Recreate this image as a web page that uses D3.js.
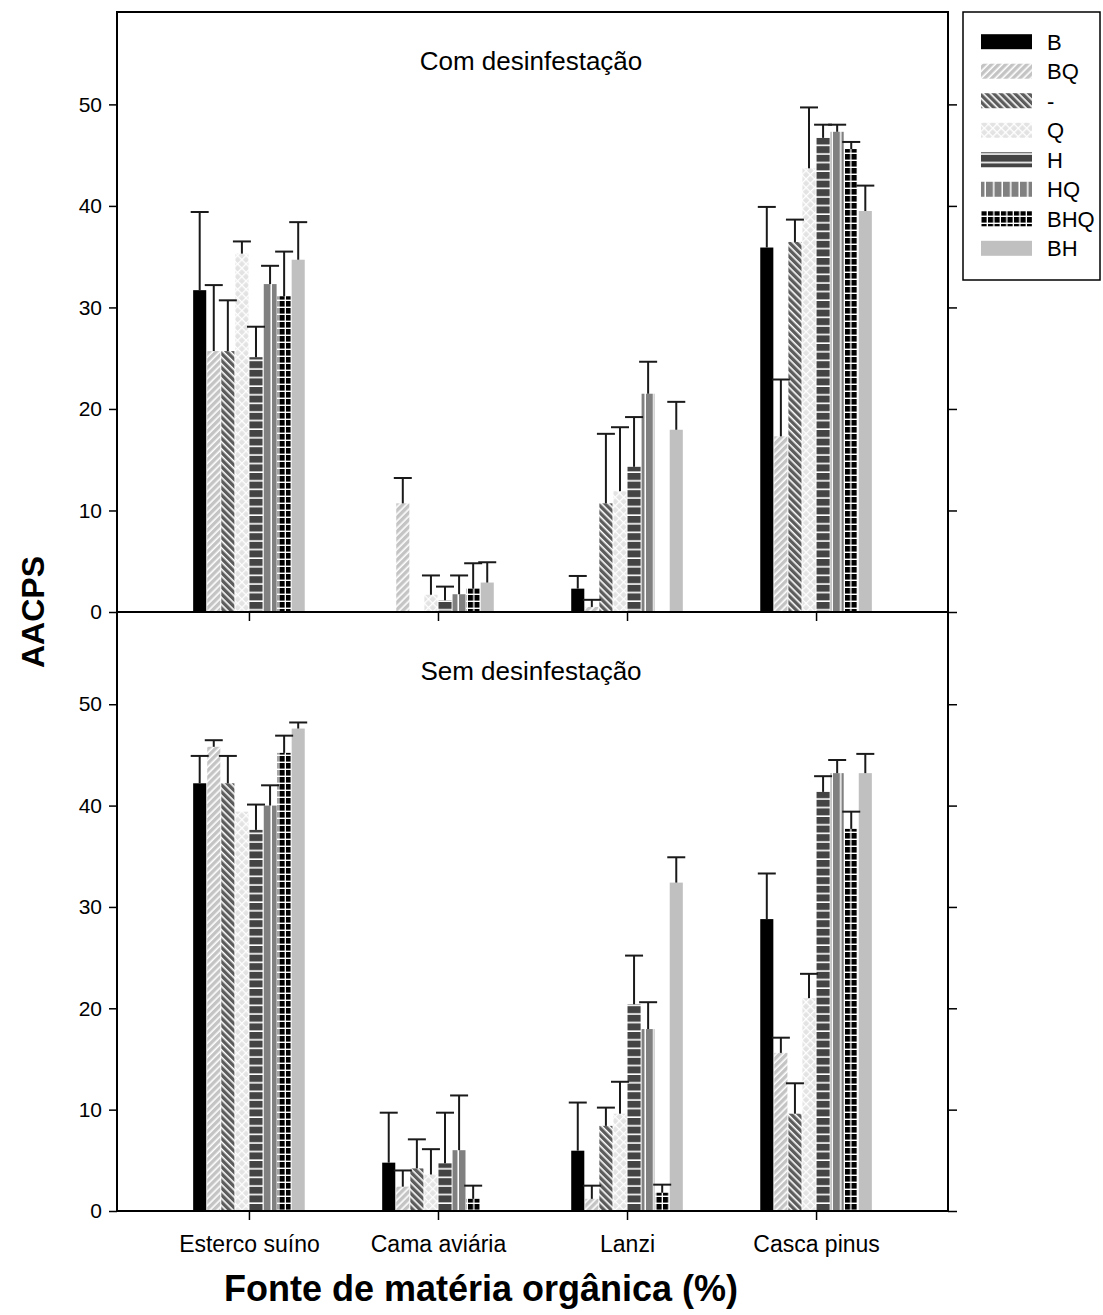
<!DOCTYPE html>
<html>
<head>
<meta charset="utf-8">
<script src="https://cdn.jsdelivr.net/npm/d3@7"></script>
<style>
  html, body { margin: 0; padding: 0; background: #fff; }
  svg { display: block; font-family: "Liberation Sans", Arial, sans-serif; }
</style>
</head>
<body>
<svg id="chart" width="1103" height="1315"></svg>
<script>
// ---------- DATA ----------
const categories = ["Esterco suíno", "Cama aviária", "Lanzi", "Casca pinus"];
const series = ["B", "BQ", "-", "Q", "H", "HQ", "BHQ", "BH"];
const panelTitles = ["Com desinfestação", "Sem desinfestação"];
const yTicks = [0, 10, 20, 30, 40, 50];

// Means per series (rows) x category (columns) — Com desinfestação
const comMeans = [
  [31.7, 0,    2.3,  35.9],
  [25.7, 10.7, 0.5,  17.3],
  [25.7, 0,    10.7, 36.45],
  [35.3, 1.7,  11.9, 43.7],
  [25.1, 1.15, 14.3, 46.7],
  [32.3, 1.75, 21.5, 47.3],
  [31.1, 2.3,  0,    45.6],
  [34.7, 2.9,  17.95, 39.5]
];
// Upper error (standard error) — Com desinfestação
const comErr = [
  [7.7, 0,    1.25, 4.0],
  [6.5, 2.5,  0.7,  5.6],
  [5.0, 0,    6.85, 2.2],
  [1.2, 1.9,  6.3,  6.0],
  [3.0, 1.35, 4.9,  1.3],
  [1.8, 1.85, 3.15, 0.7],
  [4.4, 2.5,  0,    0.7],
  [3.7, 2.0,  2.75, 2.5]
];
// Means — Sem desinfestação
const semMeans = [
  [42.2, 4.77, 5.95, 28.8],
  [45.8, 2.4,  1.2,  15.6],
  [42.2, 4.2,  8.4,  9.6],
  [39.4, 3.6,  9.6,  21.0],
  [37.6, 4.7,  20.4, 41.35],
  [40.0, 6.0,  17.95, 43.2],
  [45.2, 1.2,  1.8,  37.7],
  [47.6, 0,    32.4, 43.2]
];
// Upper error — Sem desinfestação
const semErr = [
  [2.7,  4.93, 4.75, 4.5],
  [0.65, 1.6,  1.3,  1.5],
  [2.7,  2.87, 1.8,  3.0],
  [0,    2.5,  3.15, 2.4],
  [2.5,  5.0,  4.8,  1.55],
  [2.0,  5.4,  2.65, 1.3],
  [1.7,  1.3,  0.8,  1.7],
  [0.6,  0,    2.5,  1.9]
];

// ---------- LAYOUT ----------
const svg = d3.select("#chart");
const plotL = 117, plotR = 948;
const panelBoxes = [{ top: 12, bottom: 612, titleY: 70 }, { top: 612, bottom: 1211, titleY: 680 }];
const yMax = 59.1;

// ---------- PATTERNS ----------
const defs = svg.append("defs");
function stripePattern(id, fg, bg, size, fgW, rot) {
  const p = defs.append("pattern").attr("id", id).attr("patternUnits", "userSpaceOnUse")
    .attr("width", size).attr("height", size).attr("patternTransform", `rotate(${rot})`);
  p.append("rect").attr("width", size).attr("height", size).attr("fill", bg);
  p.append("rect").attr("x", 0).attr("width", fgW).attr("height", size).attr("fill", fg);
}
stripePattern("p-BQ", "#c4c4c4", "#ffffff", 5, 3.4, 45);
stripePattern("p-dash", "#5c5c5c", "#ffffff", 5, 3.4, -45);
// Q: light crosshatch
{
  const s = 6;
  const p = defs.append("pattern").attr("id", "p-Q").attr("patternUnits", "userSpaceOnUse")
    .attr("width", s).attr("height", s).attr("patternTransform", "rotate(45)");
  p.append("rect").attr("width", s).attr("height", s).attr("fill", "#e3e3e3");
  p.append("rect").attr("x", 0).attr("width", 1.3).attr("height", s).attr("fill", "#ffffff");
  p.append("rect").attr("y", 0).attr("width", s).attr("height", 1.3).attr("fill", "#ffffff");
}
// H: dark gray with horizontal white lines
{
  const p = defs.append("pattern").attr("id", "p-H").attr("patternUnits", "userSpaceOnUse")
    .attr("width", 8.6).attr("height", 8.6);
  p.append("rect").attr("width", 8.6).attr("height", 8.6).attr("fill", "#444444");
  p.append("rect").attr("y", 7).attr("width", 8.6).attr("height", 1.6).attr("fill", "#ffffff");
}
// HQ: medium gray with vertical white lines
{
  const p = defs.append("pattern").attr("id", "p-HQ").attr("patternUnits", "userSpaceOnUse")
    .attr("width", 8.5).attr("height", 8.5);
  p.append("rect").attr("width", 8.5).attr("height", 8.5).attr("fill", "#808080");
  p.append("rect").attr("x", 7).attr("width", 1.5).attr("height", 8.5).attr("fill", "#ffffff");
}
// BHQ: black with white grid
{
  const p = defs.append("pattern").attr("id", "p-BHQ").attr("patternUnits", "userSpaceOnUse")
    .attr("width", 6.5).attr("height", 7);
  p.append("rect").attr("width", 6.5).attr("height", 7).attr("fill", "#000000");
  p.append("rect").attr("x", 5.2).attr("width", 1.3).attr("height", 7).attr("fill", "#ffffff");
  p.append("rect").attr("y", 5.6).attr("width", 6.5).attr("height", 1.4).attr("fill", "#ffffff");
}
const fills = {
  "B": "#000000",
  "BQ": "url(#p-BQ)",
  "-": "url(#p-dash)",
  "Q": "url(#p-Q)",
  "H": "url(#p-H)",
  "HQ": "url(#p-HQ)",
  "BHQ": "url(#p-BHQ)",
  "BH": "#c0c0c0"
};

// ---------- SCALES ----------
const x = d3.scalePoint().domain(categories).range([plotL, plotR]).padding(0.698);
const xs = d3.scaleBand().domain(series).range([-55.8, 55.8]).paddingInner(0.07);

const panelData = [
  { means: comMeans, errs: comErr },
  { means: semMeans, errs: semErr }
];

panelData.forEach((pd, pi) => {
  const box = panelBoxes[pi];
  const y = d3.scaleLinear().domain([0, yMax]).range([box.bottom, box.top]);
  const g = svg.append("g");

  const rows = [];
  series.forEach((s, si) => {
    categories.forEach((c, ci) => {
      rows.push({ s, c, v: pd.means[si][ci], e: pd.errs[si][ci] });
    });
  });
  const valid = rows.filter(d => d.v > 0);

  g.selectAll("rect.bar").data(valid).join("rect")
    .attr("class", "bar")
    .attr("x", d => x(d.c) + xs(d.s))
    .attr("width", xs.bandwidth())
    .attr("y", d => y(d.v))
    .attr("height", d => y(0) - y(d.v))
    .attr("fill", d => fills[d.s]);

  const eb = valid.filter(d => d.e > 0);
  const cap = 9;
  g.selectAll("line.err").data(eb).join("line")
    .attr("class", "err")
    .attr("x1", d => x(d.c) + xs(d.s) + xs.bandwidth() / 2)
    .attr("x2", d => x(d.c) + xs(d.s) + xs.bandwidth() / 2)
    .attr("y1", d => y(d.v))
    .attr("y2", d => y(d.v + d.e))
    .attr("stroke", "#1a1a1a").attr("stroke-width", 2);
  g.selectAll("line.cap").data(eb).join("line")
    .attr("class", "cap")
    .attr("x1", d => x(d.c) + xs(d.s) + xs.bandwidth() / 2 - cap)
    .attr("x2", d => x(d.c) + xs(d.s) + xs.bandwidth() / 2 + cap)
    .attr("y1", d => y(d.v + d.e))
    .attr("y2", d => y(d.v + d.e))
    .attr("stroke", "#1a1a1a").attr("stroke-width", 2);

  const la = svg.append("g").attr("transform", `translate(${plotL},0)`)
    .call(d3.axisLeft(y).tickValues(yTicks).tickSize(8).tickPadding(7));
  la.select(".domain").remove();
  la.selectAll("line").attr("stroke", "#000").attr("stroke-width", 1.5);
  la.selectAll("text").attr("font-size", 21).attr("fill", "#000")
    .attr("font-family", "Liberation Sans, Arial, sans-serif");

  const ra = svg.append("g").attr("transform", `translate(${plotR},0)`)
    .call(d3.axisRight(y).tickValues(yTicks).tickSize(9).tickFormat(""));
  ra.select(".domain").remove();
  ra.selectAll("line").attr("stroke", "#000").attr("stroke-width", 1.5);

  const ba = svg.append("g").attr("transform", `translate(0,${box.bottom})`)
    .call(d3.axisBottom(x).tickSize(9).tickPadding(16).tickFormat(pi === 1 ? (d => d) : ""));
  ba.select(".domain").remove();
  ba.selectAll("line").attr("stroke", "#000").attr("stroke-width", 1.5);
  ba.selectAll("text").attr("font-size", 23).attr("fill", "#000")
    .attr("font-family", "Liberation Sans, Arial, sans-serif");

  svg.append("text")
    .attr("x", 531).attr("y", box.titleY)
    .attr("text-anchor", "middle")
    .attr("font-size", 26)
    .text(panelTitles[pi]);
});

// frame
svg.append("rect").attr("x", plotL).attr("y", 12).attr("width", plotR - plotL).attr("height", 1211 - 12)
  .attr("fill", "none").attr("stroke", "#000").attr("stroke-width", 2);
svg.append("line").attr("x1", plotL).attr("x2", plotR).attr("y1", 612).attr("y2", 612)
  .attr("stroke", "#000").attr("stroke-width", 2);

// axis titles
svg.append("text")
  .attr("transform", "translate(44,612) rotate(-90)")
  .attr("text-anchor", "middle")
  .attr("font-size", 32).attr("font-weight", "bold")
  .text("AACPS");
svg.append("text")
  .attr("x", 481).attr("y", 1301)
  .attr("text-anchor", "middle")
  .attr("font-size", 36).attr("font-weight", "bold")
  .text("Fonte de matéria orgânica (%)");

// legend
const lg = svg.append("g");
lg.append("rect").attr("x", 963).attr("y", 12).attr("width", 137).attr("height", 268)
  .attr("fill", "#fff").attr("stroke", "#000").attr("stroke-width", 1.5);
const ly = d3.scalePoint().domain(series).range([41.7, 248.3]);
lg.selectAll("rect.sw").data(series).join("rect")
  .attr("class", "sw")
  .attr("x", 981).attr("width", 51)
  .attr("y", d => ly(d) - 7.5).attr("height", 15)
  .attr("fill", d => fills[d]);
lg.selectAll("text.lab").data(series).join("text")
  .attr("class", "lab")
  .attr("x", 1047).attr("y", d => ly(d))
  .attr("dy", "0.36em")
  .attr("font-size", 22)
  .text(d => d);
</script>
</body>
</html>
